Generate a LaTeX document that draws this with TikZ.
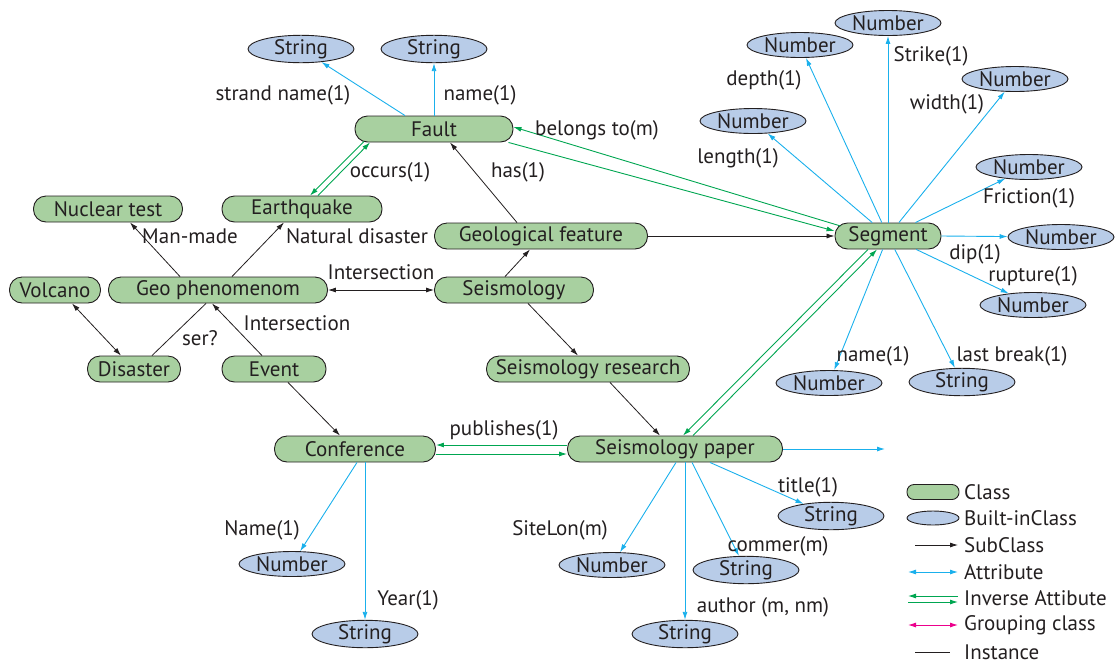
\documentclass[tikz,border=0pt]{standalone}
\usepackage{fontspec}
\setmainfont{PT Sans}
\usetikzlibrary{shapes.geometric,arrows.meta,calc}
\definecolor{cfill}{HTML}{A8D0A0}
\definecolor{bfill}{HTML}{B8CCE8}
\definecolor{cyanl}{HTML}{1AB0EC}
\definecolor{greenl}{HTML}{00A651}
\definecolor{magl}{HTML}{EC008C}
\definecolor{txt}{HTML}{231F20}
\begin{document}
\begin{tikzpicture}[x=1pt,y=-1pt,
 font=\fontsize{21}{23}\selectfont, text=txt,
 cls/.style={draw=txt, line width=0.9pt, fill=cfill, rounded corners=12.5pt, minimum height=26pt, inner sep=0pt},
 bic/.style={ellipse, draw=txt, line width=0.9pt, fill=bfill, minimum width=106pt, minimum height=25pt, inner sep=0pt},
 tip/.style={-{Latex[length=8pt,width=5pt]}},
 sub/.style={draw=txt, line width=0.8pt, tip},
 att/.style={draw=cyanl, line width=0.9pt, tip},
 inv/.style={draw=greenl, line width=0.9pt, tip},
 lbl/.style={inner sep=1pt}]
\useasboundingbox (0,0) rectangle (1119,665);
% classes
\node[cls,minimum width=158pt] (fault) at (434,129) {Fault};
\node[cls,minimum width=149pt] (nuc) at (108,209) {Nuclear test};
\node[cls,minimum width=160pt] (eq) at (302,209) {Earthquake};
\node[cls,minimum width=213pt] (geof) at (541,236) {Geological feature};
\node[cls,minimum width=106pt] (seg) at (888,236) {Segment};
\node[cls,minimum width=91pt] (vol) at (55,290) {Volcano};
\node[cls,minimum width=219pt] (geop) at (218,290) {Geo phenomenom};
\node[cls,minimum width=159pt] (seis) at (514,290) {Seismology};
\node[cls,minimum width=93pt] (dis) at (134,369) {Disaster};
\node[cls,minimum width=104pt] (evt) at (274,369) {Event};
\node[cls,minimum width=203pt] (sres) at (588,369) {Seismology research};
\node[cls,minimum width=161pt] (conf) at (355,449) {Conference};
\node[cls,minimum width=215pt] (spap) at (675,449) {Seismology paper};
% built-in
\node[bic] (s1) at (301,49) {String};
\node[bic] (s2) at (434,49) {String};
\node[bic] (nstrike) at (888,23) {Number};
\node[bic] (ndepth) at (800,45) {Number};
\node[bic] (nwidth) at (1015,79) {Number};
\node[bic] (nlength) at (753,121) {Number};
\node[bic] (nfric) at (1029,167) {Number};
\node[bic] (ndip) at (1061,237) {Number};
\node[bic] (nrup) at (1033,305) {Number};
\node[bic] (nname) at (829,383) {Number};
\node[bic] (slast) at (962,382) {String};
\node[bic] (stitle) at (831,516) {String};
\node[bic] (nsite) at (612,565) {Number};
\node[bic] (scomm) at (746,570) {String};
\node[bic] (sauth) at (685,634) {String};
\node[bic] (ncname) at (292,564) {Number};
\node[bic] (scyear) at (365,634) {String};
% fault edges
\draw[att] ([xshift=-29pt]fault.north) -- (s1);
\draw[att] (fault.north) -- (s2);
\draw[inv] ([xshift=-70pt,yshift=1pt]fault.south) -- ([xshift=8pt]eq.north);
\draw[inv] ([xshift=16pt]eq.north) -- ([xshift=-64pt]fault.south);
\draw[sub] ([xshift=-24pt]geof.north) -- ([xshift=16pt]fault.south);
\draw[inv] ([xshift=6pt,yshift=10pt]seg.west) -- ([yshift=2pt]fault.east);
\draw[inv] ([xshift=-5pt]fault.south east) -- ([yshift=5pt]seg.west);
\draw[sub] (geof.east) -- (seg.west);
% geo phenomenom
\draw[sub] ([xshift=-38pt]geop.north) -- ([xshift=22pt]nuc.south);
\draw[sub] ([xshift=14pt]geop.north) -- ([xshift=-18pt]eq.south);
\draw[sub,{Latex[length=8pt,width=5pt]}-{Latex[length=8pt,width=5pt]}] (geop.east) -- (seis.west);
\draw[sub] ([xshift=-9pt]seis.north) -- ([xshift=-11pt]geof.south);
\draw[sub,{Latex[length=8pt,width=5pt]}-{Latex[length=8pt,width=5pt]}] ([xshift=17pt]vol.south) -- ([xshift=-13pt]dis.north);
\draw[draw=txt,line width=0.8pt] ([xshift=18pt]dis.north) -- ([xshift=-12pt]geop.south);
\draw[sub] ([xshift=-12pt]evt.north) -- ([xshift=-6pt]geop.south);
\draw[sub] ([xshift=14pt]seis.south) -- ([xshift=-10pt]sres.north);
\draw[sub] ([xshift=22pt]sres.south) -- ([xshift=-15pt]spap.north);
\draw[sub] ([xshift=14pt]evt.south) -- ([xshift=-15pt]conf.north);
% conference / paper
\draw[inv] ([yshift=4pt]spap.west) -- ([yshift=4pt]conf.east);
\draw[inv] ([yshift=-5pt]conf.east) -- ([yshift=-5pt]spap.west);
\draw[inv] ([xshift=-20pt]seg.south) -- ([xshift=8pt]spap.north);
\draw[inv] ([xshift=18pt]spap.north) -- ([xshift=-11pt]seg.south);
\coordinate (pend) at (885,449);
\draw[att] (spap.east) -- (pend);
\draw[att] ([xshift=2pt]conf.south) -- (ncname);
\draw[att] ([xshift=10pt]conf.south) -- (scyear);
\draw[att] ([xshift=1pt]spap.south) -- (nsite);
\draw[att] ([xshift=10pt]spap.south) -- (sauth);
\draw[att] ([xshift=17pt]spap.south) -- (scomm);
\draw[att] ([xshift=35pt]spap.south) -- (stitle);
% segment attributes
\draw[att] (seg.north) -- (nstrike);
\draw[att] (seg) -- (ndepth);
\draw[att] (seg) -- (nwidth);
\draw[att] (seg) -- (nlength);
\draw[att] (seg) -- (nfric);
\draw[att] (seg.east) -- (ndip);
\draw[att] (seg) -- (nrup);
\draw[att] (seg) -- (nname);
\draw[att] (seg) -- (slast);
% labels
\node[lbl] (l1) at (283,95) {strand name(1)};
\node[lbl] (l2) at (480,95) {name(1)};
\node[lbl] (l3) at (390,172) {occurs(1)};
\node[lbl] (l4) at (518,172) {has(1)};
\node[lbl] (l5) at (597,130) {belongs to(m)};
\node[lbl] (l6) at (190,236) {Man-made};
\node[lbl] (l7) at (357,236) {Natural disaster};
\node[lbl] (l8) at (381,272) {Intersection};
\node[lbl] (l9) at (200,338) {ser?};
\node[lbl] (l10) at (297,323) {Intersection};
\node[lbl] (l11) at (504,430) {publishes(1)};
\node[lbl] (l12) at (262,530) {Name(1)};
\node[lbl] (l13) at (408,600) {Year(1)};
\node[lbl] (l14) at (560,530) {SiteLon(m)};
\node[lbl] (l15) at (763,607) {author (m, nm)};
\node[lbl] (l16) at (778,546) {commer(m)};
\node[lbl] (l17) at (808,487) {title(1)};
\node[lbl] (l18) at (931,56) {Strike(1)};
\node[lbl] (l19) at (764,80) {depth(1)};
\node[lbl] (l20) at (947,104) {width(1)};
\node[lbl] (l21) at (738,158) {length(1)};
\node[lbl] (l22) at (1029,198) {Friction(1)};
\node[lbl] (l23) at (975,254) {dip(1)};
\node[lbl] (l24) at (1033,276) {rupture(1)};
\node[lbl] (l25) at (873,356) {name(1)};
\node[lbl] (l26) at (1012,356) {last break(1)};
% legend
\node[cls,minimum width=52pt,minimum height=15pt,rounded corners=7pt] (lgc) at (933,492) {};
\node[bic,minimum width=52pt,minimum height=14pt] (lgb) at (933,518) {};
\coordinate (a1) at (915,545); \coordinate (a2) at (958,545);
\coordinate (b1) at (908,572); \coordinate (b2) at (958,572);
\coordinate (c1) at (908,596); \coordinate (c2) at (958,596);
\coordinate (d1) at (908,602); \coordinate (d2) at (958,602);
\coordinate (e1) at (908,625); \coordinate (e2) at (958,625);
\coordinate (f1) at (915,652); \coordinate (f2) at (950,652);
\draw[sub] (a1) -- (a2);
\draw[att,{Latex[length=8pt,width=5pt]}-{Latex[length=8pt,width=5pt]}] (b1) -- (b2);
\draw[inv] (c2) -- (c1);
\draw[inv] (d1) -- (d2);
\draw[draw=magl,line width=0.9pt,{Latex[length=8pt,width=5pt]}-{Latex[length=8pt,width=5pt]}] (e1) -- (e2);
\draw[draw=txt,line width=0.8pt] (f1) -- (f2);
\node[lbl,anchor=west] (t1) at (963,492) {Class};
\node[lbl,anchor=west] (t2) at (963,518) {Built-inClass};
\node[lbl,anchor=west] (t3) at (963,545) {SubClass};
\node[lbl,anchor=west] (t4) at (963,572) {Attribute};
\node[lbl,anchor=west] (t5) at (963,598) {Inverse Attibute};
\node[lbl,anchor=west] (t6) at (963,625) {Grouping class};
\node[lbl,anchor=west] (t7) at (963,652) {Instance};
\end{tikzpicture}
\end{document}
